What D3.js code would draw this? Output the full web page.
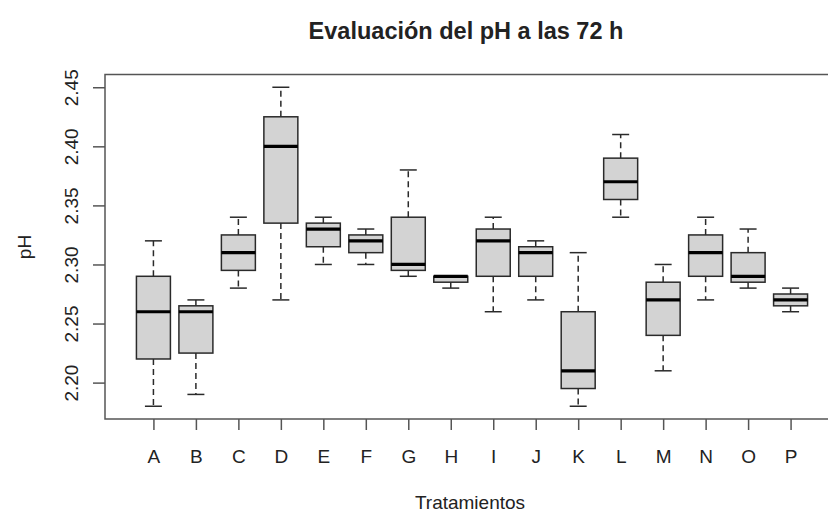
<!DOCTYPE html>
<html>
<head>
<meta charset="utf-8">
<script src="https://cdn.jsdelivr.net/npm/d3@7"></script>
<style>
  html, body { margin: 0; padding: 0; background: #fff; }
  svg { display: block; }
  text { font-family: "Liberation Sans", Arial, sans-serif; fill: #222; }
</style>
</head>
<body>
<svg id="chart" width="828" height="515"></svg>
<script>
// Treatments and five-number summaries of pH after 72 h
const treatments = ["A","B","C","D","E","F","G","H","I","J","K","L","M","N","O","P"];
const whiskerLow  = [2.18, 2.19,  2.28,  2.27,  2.30,  2.30,  2.29,  2.28,  2.26, 2.27,  2.18,  2.34,  2.21,  2.27,  2.28,  2.26];
const lowerQuart  = [2.22, 2.225, 2.295, 2.335, 2.315, 2.31,  2.295, 2.285, 2.29, 2.29,  2.195, 2.355, 2.24,  2.29,  2.285, 2.265];
const medians     = [2.26, 2.26,  2.31,  2.40,  2.33,  2.32,  2.30,  2.29,  2.32, 2.31,  2.21,  2.37,  2.27,  2.31,  2.29,  2.27];
const upperQuart  = [2.29, 2.265, 2.325, 2.425, 2.335, 2.325, 2.34,  2.29,  2.33, 2.315, 2.26,  2.39,  2.285, 2.325, 2.31,  2.275];
const whiskerHigh = [2.32, 2.27,  2.34,  2.45,  2.34,  2.33,  2.38,  2.29,  2.34, 2.32,  2.31,  2.41,  2.30,  2.34,  2.33,  2.28];
const yTicks = [2.20, 2.25, 2.30, 2.35, 2.40, 2.45];

const titleText = "Evaluación del pH a las 72 h";
const xTitle = "Tratamientos";
const yTitle = "pH";

const rows = treatments.map((t, i) => ({
  t, lo: whiskerLow[i], q1: lowerQuart[i], med: medians[i], q3: upperQuart[i], hi: whiskerHigh[i]
}));

const svg = d3.select("#chart");
const plotL = 105, plotR = 839, plotT = 74.5, plotB = 419;
const labelFont = "\"Liberation Sans\", Arial, sans-serif";

const x = d3.scalePoint().domain(treatments).range([plotL, plotR]).padding(1.14);
const y = d3.scaleLinear().domain([2.1692, 2.4608]).range([plotB, plotT]);
const step = x.step();
const boxHalf = step * 0.4;
const capHalf = boxHalf * 0.5;

// Boxes
const g = svg.append("g");
const box = g.selectAll("g.box").data(rows).join("g").attr("class", "box");

// dashed whiskers
box.append("line")
  .attr("x1", d => x(d.t)).attr("x2", d => x(d.t))
  .attr("y1", d => y(d.q3)).attr("y2", d => y(d.hi))
  .attr("stroke", "#2a2a2a").attr("stroke-width", 1.5).attr("stroke-dasharray", "6,4");
box.append("line")
  .attr("x1", d => x(d.t)).attr("x2", d => x(d.t))
  .attr("y1", d => y(d.q1)).attr("y2", d => y(d.lo))
  .attr("stroke", "#2a2a2a").attr("stroke-width", 1.5).attr("stroke-dasharray", "6,4");

// staples
box.append("line")
  .attr("x1", d => x(d.t) - capHalf).attr("x2", d => x(d.t) + capHalf)
  .attr("y1", d => y(d.hi)).attr("y2", d => y(d.hi))
  .attr("stroke", "#2a2a2a").attr("stroke-width", 1.5);
box.append("line")
  .attr("x1", d => x(d.t) - capHalf).attr("x2", d => x(d.t) + capHalf)
  .attr("y1", d => y(d.lo)).attr("y2", d => y(d.lo))
  .attr("stroke", "#2a2a2a").attr("stroke-width", 1.5);

// interquartile box
box.append("rect")
  .attr("x", d => x(d.t) - boxHalf)
  .attr("width", boxHalf * 2)
  .attr("y", d => y(d.q3))
  .attr("height", d => y(d.q1) - y(d.q3))
  .attr("fill", "#d3d3d3").attr("stroke", "#2a2a2a").attr("stroke-width", 1.5);

// median
box.append("line")
  .attr("x1", d => x(d.t) - boxHalf).attr("x2", d => x(d.t) + boxHalf)
  .attr("y1", d => y(d.med)).attr("y2", d => y(d.med))
  .attr("stroke", "#000").attr("stroke-width", 3.2);

// Plot frame
svg.append("rect")
  .attr("x", plotL).attr("y", plotT)
  .attr("width", plotR - plotL).attr("height", plotB - plotT)
  .attr("fill", "none").attr("stroke", "#555").attr("stroke-width", 1.5);

// X axis
const xAxis = svg.append("g")
  .attr("transform", `translate(0,${plotB})`)
  .call(d3.axisBottom(x).tickSize(11).tickSizeOuter(0));
xAxis.select(".domain").remove();
xAxis.selectAll(".tick line").attr("stroke", "#555").attr("stroke-width", 1.5);
xAxis.selectAll(".tick text")
  .attr("y", 44).attr("dy", 0)
  .attr("font-size", 19).attr("font-family", labelFont)
  .attr("fill", "#222");

// Y axis
const yAxis = svg.append("g")
  .attr("transform", `translate(${plotL},0)`)
  .call(d3.axisLeft(y).tickValues(yTicks).tickFormat(d3.format(".2f")).tickSize(12).tickSizeOuter(0));
yAxis.select(".domain").remove();
yAxis.selectAll(".tick line").attr("stroke", "#555").attr("stroke-width", 1.5);
yAxis.selectAll(".tick text")
  .attr("transform", "rotate(-90)")
  .attr("x", 0).attr("y", -26.7).attr("dy", 0)
  .attr("text-anchor", "middle")
  .attr("font-size", 19).attr("font-family", labelFont)
  .attr("fill", "#222");

// Titles
svg.append("text")
  .attr("x", 466).attr("y", 39)
  .attr("text-anchor", "middle")
  .attr("font-size", 23.5).attr("font-weight", "bold")
  .attr("fill", "#111")
  .text(titleText);

svg.append("text")
  .attr("x", 470).attr("y", 509)
  .attr("text-anchor", "middle")
  .attr("font-size", 19)
  .text(xTitle);

svg.append("text")
  .attr("transform", "translate(31,247) rotate(-90)")
  .attr("text-anchor", "middle")
  .attr("font-size", 19)
  .text(yTitle);
</script>
</body>
</html>
